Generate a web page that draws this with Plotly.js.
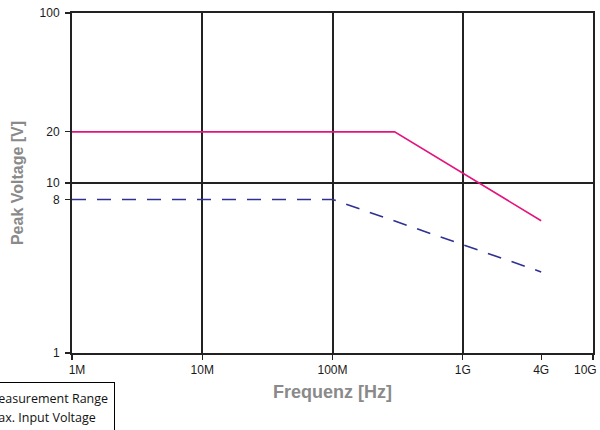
<!DOCTYPE html>
<html><head><meta charset="utf-8">
<script src="https://cdn.plot.ly/plotly-3.0.1.min.js"></script>
<style>html,body{margin:0;padding:0;background:#fff}#chart{width:600px;height:430px}</style>
</head><body><div id="chart"></div>
<script>
// Data
var measFreq = [1e6, 1e8, 4e9];
var measVolt = [8, 8, 3];
var maxFreq = [1e6, 3e8, 4e9];
var maxVolt = [20, 20, 6];
var xTickVals = [1e6, 1e7, 1e8, 1e9, 4e9, 1e10];
var xTickText = ['\u00a0\u00a0\u00a01M', '10M', '100M', '1G', '4G', ''];
var xEndLabel = '10G';
var xEndValue = 1e10;
var xGridVals = [1e6, 1e7, 1e8, 1e9, 1e10];
var yTickVals = [1, 8, 10, 20, 100];
var yTickText = ['1', '8', '10', '20', '100'];
var yGridVals = [1, 10, 100];
var seriesNames = ['Measurement Range', 'Max. Input Voltage'];

var traces = [
  {x: measFreq, y: measVolt, name: seriesNames[0], mode: 'lines', type: 'scatter',
   line: {color: '#2e3192', width: 1.6, dash: '14px,11px'}},
  {x: maxFreq, y: maxVolt, name: seriesNames[1], mode: 'lines', type: 'scatter',
   line: {color: '#e4147f', width: 1.6}}
];

var axisFont = {family: 'Liberation Sans, Arial, sans-serif', size: 12, color: '#1a1a1a'};
var gridCol = '#222';
var layout = {
  width: 600, height: 430,
  margin: {l: 72, r: 7, t: 13, b: 77, autoexpand: false},
  paper_bgcolor: '#fff', plot_bgcolor: '#fff',
  showlegend: true,
  legend: {x: (115-72)/521, xanchor: 'right', y: (353-382)/340, yanchor: 'top',
    bordercolor: '#000', borderwidth: 1, bgcolor: '#fff',
    font: {family: 'Open Sans, Noto Sans, sans-serif', size: 12.5, color: '#111'},
    tracegroupgap: 0},
  annotations: [{x: Math.log10(xEndValue), xref: 'x', y: 0, yref: 'paper', yanchor: 'top', xanchor: 'right',
    xshift: 6, yshift: -8, text: xEndLabel, showarrow: false, font: axisFont}],
  xaxis: {type: 'log', range: [6, 10.00001], tickmode: 'array', tickvals: xTickVals, ticktext: xTickText,
    showgrid: false, zeroline: false, showline: true, mirror: true, linecolor: gridCol, linewidth: 2,
    ticks: 'outside', ticklen: 5, tickwidth: 1.2, tickcolor: gridCol, tickfont: axisFont,
    minor: {tickmode: 'array', tickvals: xGridVals, showgrid: true, gridcolor: gridCol, gridwidth: 2, ticks: ''},
    title: {text: 'Frequenz [Hz]', standoff: 9,
      font: {family: 'Liberation Sans, Arial, sans-serif', size: 18, color: '#8a8a8a', weight: 'bold'}}},
  yaxis: {type: 'log', range: [0, 2.000001], tickmode: 'array', tickvals: yTickVals, ticktext: yTickText,
    showgrid: false, zeroline: false, showline: true, mirror: true, linecolor: gridCol, linewidth: 2,
    ticks: 'outside', ticklen: 5, tickwidth: 1.2, tickcolor: gridCol, tickfont: axisFont,
    ticklabelstandoff: 3,
    minor: {tickmode: 'array', tickvals: yGridVals, showgrid: true, gridcolor: gridCol, gridwidth: 2, ticks: ''},
    title: {text: 'Peak Voltage [V]', standoff: 12,
      font: {family: 'Liberation Sans, Arial, sans-serif', size: 16, color: '#8a8a8a', weight: 'bold'}}}
};
Plotly.newPlot('chart', traces, layout, {staticPlot: true, displayModeBar: false});
</script></body></html>
